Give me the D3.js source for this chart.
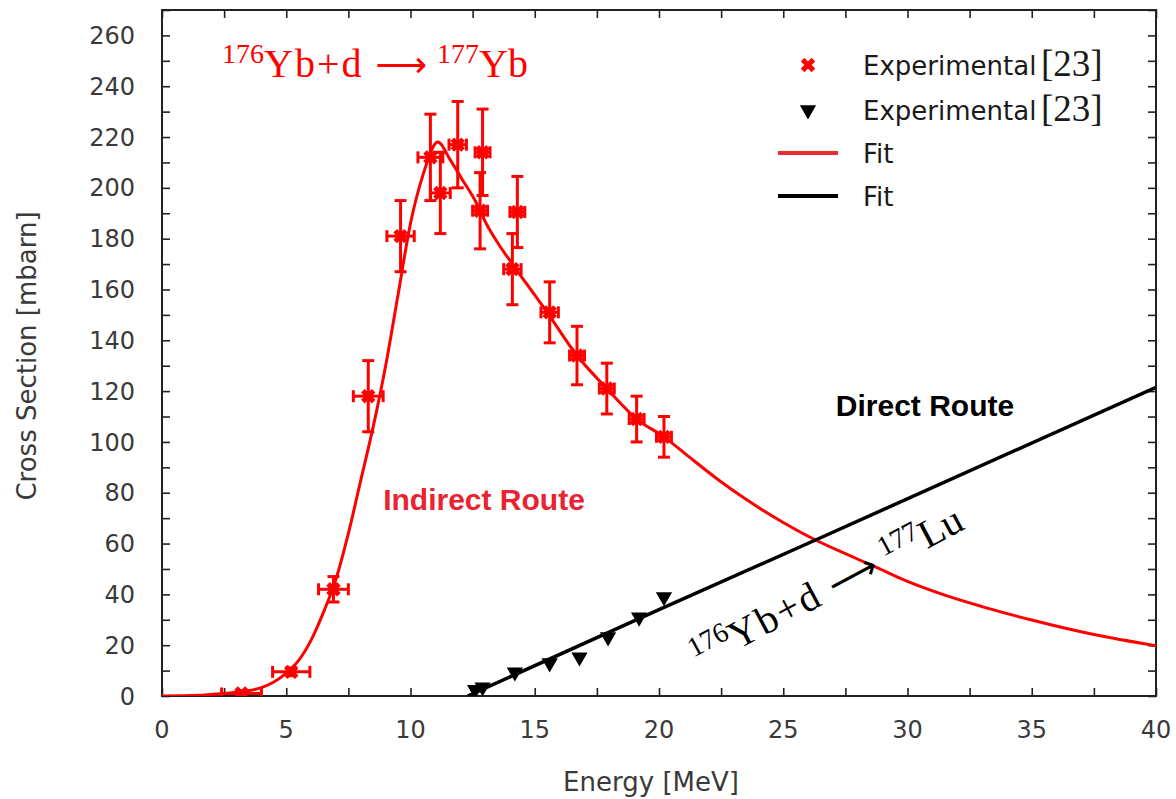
<!DOCTYPE html>
<html>
<head>
<meta charset="utf-8">
<script src="https://cdn.jsdelivr.net/npm/d3@7"></script>
<style>
	body { margin: 0; background: #fff; }
	svg { display: block; }
</style>
</head>
<body>
<svg id="chart" width="1176" height="799"></svg>
<script>
"use strict";

// indirect route 176Yb(d,p)177Yb -> 177Lu, experimental [23]
var redEnergy = [3.2, 5.2, 6.9, 8.3, 9.6, 10.8, 11.2, 11.9, 12.9, 12.8, 14.1, 14.3, 15.6, 16.7, 17.9, 19.1, 20.2];
var redCross = [1, 9.5, 42, 118, 181, 212, 198, 217, 214, 191, 168, 190.5, 151, 134, 121, 109, 102];
var redErrX = [0.8, 0.75, 0.6, 0.6, 0.55, 0.5, 0.4, 0.35, 0.3, 0.3, 0.35, 0.3, 0.35, 0.3, 0.3, 0.3, 0.3];
var redErrY = [1, 1.5, 5, 14, 14, 17, 16, 17, 17, 15, 14, 14, 12, 11.5, 10, 9, 8];

// direct route 176Yb(d,n)177Lu, experimental [23]
var blackEnergy = [12.6, 12.9, 14.2, 15.6, 16.8, 17.95, 19.2, 20.2];
var blackCross = [2.5, 3.5, 9.4, 13, 15.3, 23.2, 31, 39];

// fits
var redFitE = [0, 1.5, 2, 3, 4, 4.5, 5, 5.5, 6, 6.5, 7, 7.5, 8, 8.5, 9, 9.5, 10, 10.5, 11.1,
	11.6, 12.1, 12.6, 13.1, 13.6, 14.1, 15.5, 16.7, 17.9, 19.1, 20.2, 21.2, 22.4, 23.5, 25,
	26.3, 27.5, 28.8, 30, 31.5, 33, 35, 37.5, 40];
var redFitY = [0, 0.3, 0.6, 1.5, 3.3, 5.5, 9, 14, 22, 33, 46, 64, 85, 106, 130, 158, 186, 205, 218,
	211, 203, 195, 185, 177, 170, 151, 134, 121, 109, 102, 94.2, 85, 77.4, 68.3,
	61.4, 56, 50.4, 45.1, 39.7, 35.2, 29.9, 24.2, 19.8];
var blackFitE = [12.3, 20, 26.3, 40];
var blackFitY = [0, 34, 61.4, 121.5];

var xTicksMajor = [0, 5, 10, 15, 20, 25, 30, 35, 40];
var yTicksMajor = [0, 20, 40, 60, 80, 100, 120, 140, 160, 180, 200, 220, 240, 260];

var legendLabels = ["Experimental", "Experimental", "Fit", "Fit"];

var RED = "#ff0000";
var SANS = "'DejaVu Sans', sans-serif";
var SERIF = "'Liberation Serif', 'DejaVu Serif', serif";

var svg = d3.select("#chart");

var plotLeft = 162, plotRight = 1156, plotTop = 10, plotBottom = 696;

var xScale = d3.scaleLinear().domain([0, 40]).range([plotLeft, plotRight]);
var yScale = d3.scaleLinear().domain([0, 270]).range([plotBottom, plotTop]);

var zip = function (a, b) {
	return a.map(function (v, i) { return [v, b[i]]; });
};

svg.append("clipPath").attr("id", "plot-clip")
	.append("rect")
	.attr("x", plotLeft).attr("y", plotTop)
	.attr("width", plotRight - plotLeft).attr("height", plotBottom - plotTop);

// axes: ticks inside on all four sides
var tickSize = 8;
var xMinor = d3.range(0, 40.01, 2.5);
var yMinor = d3.range(0, 270.01, 10);

var axisG = svg.append("g").attr("class", "axes");

var addAxis = function (axis, tr) {
	var g = axisG.append("g").attr("transform", tr).call(axis);
	g.select(".domain").remove();
	g.selectAll(".tick line").attr("stroke", "#222").attr("stroke-width", 1.6);
	g.selectAll("text").remove();
	return g;
};

addAxis(d3.axisBottom(xScale).tickValues(xMinor).tickSize(-tickSize), "translate(0," + plotBottom + ")");
addAxis(d3.axisTop(xScale).tickValues(xMinor).tickSize(-tickSize), "translate(0," + plotTop + ")");
addAxis(d3.axisLeft(yScale).tickValues(yMinor).tickSize(-tickSize), "translate(" + plotLeft + ",0)");
addAxis(d3.axisRight(yScale).tickValues(yMinor).tickSize(-tickSize), "translate(" + plotRight + ",0)");

axisG.append("rect")
	.attr("x", plotLeft).attr("y", plotTop)
	.attr("width", plotRight - plotLeft).attr("height", plotBottom - plotTop)
	.attr("fill", "none").attr("stroke", "#222").attr("stroke-width", 2);

// tick labels
axisG.selectAll(".xlab").data(xTicksMajor).enter()
	.append("text")
	.attr("class", "xlab")
	.attr("x", function (d) { return xScale(d); })
	.attr("y", 738)
	.attr("text-anchor", "middle")
	.style("font-family", SANS).style("font-size", "24px").style("fill", "#3a3a3a")
	.text(function (d) { return d; });

axisG.selectAll(".ylab").data(yTicksMajor).enter()
	.append("text")
	.attr("class", "ylab")
	.attr("x", 135)
	.attr("y", function (d) { return yScale(d); })
	.attr("dy", "0.36em")
	.attr("text-anchor", "end")
	.style("font-family", SANS).style("font-size", "24px").style("fill", "#3a3a3a")
	.text(function (d) { return d; });

svg.append("text")
	.attr("x", 651).attr("y", 791)
	.attr("text-anchor", "middle")
	.style("font-family", SANS).style("font-size", "26px").style("fill", "#3a3a3a")
	.text("Energy [MeV]");

svg.append("text")
	.attr("transform", "translate(36,356) rotate(-90)")
	.attr("text-anchor", "middle")
	.style("font-family", SANS).style("font-size", "26px").style("fill", "#3a3a3a")
	.text("Cross Section [mbarn]");

// fit curves
var plot = svg.append("g").attr("clip-path", "url(#plot-clip)");

var line = d3.line()
	.x(function (d) { return xScale(d[0]); })
	.y(function (d) { return yScale(d[1]); });

plot.append("path")
	.datum(zip(redFitE, redFitY))
	.attr("d", line.curve(d3.curveMonotoneX))
	.attr("fill", "none").attr("stroke", RED).attr("stroke-width", 3);

plot.append("path")
	.datum(zip(blackFitE, blackFitY))
	.attr("d", line.curve(d3.curveLinear))
	.attr("fill", "none").attr("stroke", "#000").attr("stroke-width", 3.5);

// red error bars and markers
var redData = redEnergy.map(function (e, i) {
	return { e: e, y: redCross[i], ex: redErrX[i], ey: redErrY[i] };
});
var cap = 6;

var bars = plot.selectAll(".err").data(redData).enter()
	.append("g").attr("class", "err")
	.attr("stroke", RED).attr("stroke-width", 3);

bars.append("line")
	.attr("x1", function (d) { return xScale(d.e); })
	.attr("x2", function (d) { return xScale(d.e); })
	.attr("y1", function (d) { return yScale(d.y - d.ey); })
	.attr("y2", function (d) { return yScale(d.y + d.ey); });
bars.append("line")
	.attr("x1", function (d) { return xScale(d.e - d.ex); })
	.attr("x2", function (d) { return xScale(d.e + d.ex); })
	.attr("y1", function (d) { return yScale(d.y); })
	.attr("y2", function (d) { return yScale(d.y); });
[-1, 1].forEach(function (s) {
	bars.append("line")
		.attr("x1", function (d) { return xScale(d.e) - cap; })
		.attr("x2", function (d) { return xScale(d.e) + cap; })
		.attr("y1", function (d) { return yScale(d.y + s * d.ey); })
		.attr("y2", function (d) { return yScale(d.y + s * d.ey); });
	bars.append("line")
		.attr("x1", function (d) { return xScale(d.e + s * d.ex); })
		.attr("x2", function (d) { return xScale(d.e + s * d.ex); })
		.attr("y1", function (d) { return yScale(d.y) - cap; })
		.attr("y2", function (d) { return yScale(d.y) + cap; });
});

var crossSym = d3.symbol().type(d3.symbolCross).size(130);
var triSym = d3.symbol().type(d3.symbolTriangle).size(115);

plot.selectAll(".redpt").data(redData).enter()
	.append("path")
	.attr("class", "redpt")
	.attr("d", crossSym)
	.attr("transform", function (d) {
		return "translate(" + xScale(d.e) + "," + yScale(d.y) + ") rotate(45)";
	})
	.attr("fill", RED);

plot.selectAll(".blkpt").data(zip(blackEnergy, blackCross)).enter()
	.append("path")
	.attr("class", "blkpt")
	.attr("d", triSym)
	.attr("transform", function (d) {
		return "translate(" + xScale(d[0]) + "," + yScale(d[1]) + ") rotate(180)";
	})
	.attr("fill", "#000");

// reaction labels
var reaction = function (g, target, color) {
	var t = g.append("text")
		.style("font-family", SERIF).style("font-size", "40px").style("fill", color);
	t.append("tspan").attr("dy", -14).style("font-size", "28px").text("176");
	t.append("tspan").attr("dy", 14).style("letter-spacing", "2px").text("Yb+d ");
	t.append("tspan").style("font-family", SANS).style("font-size", "36px").text("\u27f6");
	t.append("tspan").text(" ");
	t.append("tspan").attr("dy", -14).style("font-size", "28px").text("177");
	t.append("tspan").attr("dy", 14).text(target);
	return t;
};

reaction(svg.append("g").attr("transform", "translate(222,77)"), "Yb", RED);
reaction(svg.append("g").attr("transform", "translate(700,670) rotate(-28)"), "Lu", "#000");

svg.append("text")
	.attr("x", 484).attr("y", 510)
	.attr("text-anchor", "middle")
	.style("font-family", "'Liberation Sans', Arial, sans-serif").style("font-weight", "bold")
	.style("font-size", "30px").style("fill", "#ea2330")
	.text("Indirect Route");

svg.append("text")
	.attr("x", 925).attr("y", 416)
	.attr("text-anchor", "middle")
	.style("font-family", "'Liberation Sans', Arial, sans-serif").style("font-weight", "bold")
	.style("font-size", "30px").style("fill", "#000")
	.text("Direct Route");

// legend
var legend = svg.append("g").attr("class", "legend");
var legendY = [65, 110, 153, 196];

legend.selectAll(".ltext").data(legendLabels).enter()
	.append("text")
	.attr("class", "ltext")
	.attr("x", 863)
	.attr("y", function (d, i) { return legendY[i] + 10; })
	.style("font-family", SANS).style("font-size", "26px").style("fill", "#1a1a1a")
	.text(function (d) { return d; });

legend.selectAll(".lref").data([0, 1]).enter()
	.append("text")
	.attr("class", "lref")
	.attr("x", 1041)
	.attr("y", function (d) { return legendY[d] + 11; })
	.style("font-family", SERIF).style("font-size", "37px").style("fill", "#1a1a1a")
	.text("[23]");

legend.append("path")
	.attr("d", crossSym)
	.attr("transform", "translate(808," + legendY[0] + ") rotate(45)")
	.attr("fill", RED);
legend.append("path")
	.attr("d", triSym)
	.attr("transform", "translate(808," + legendY[1] + ") rotate(180)")
	.attr("fill", "#000");
legend.append("line")
	.attr("x1", 778).attr("x2", 838)
	.attr("y1", legendY[2]).attr("y2", legendY[2])
	.attr("stroke", "#ee2a2a").attr("stroke-width", 4);
legend.append("line")
	.attr("x1", 778).attr("x2", 838)
	.attr("y1", legendY[3]).attr("y2", legendY[3])
	.attr("stroke", "#000").attr("stroke-width", 4);
</script>
</body>
</html>
